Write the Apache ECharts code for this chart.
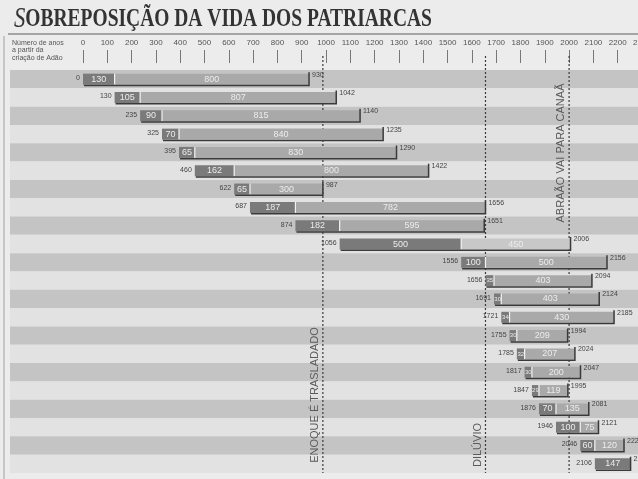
<!DOCTYPE html>
<html><head><meta charset="utf-8">
<script src="https://cdn.jsdelivr.net/npm/echarts@6/dist/echarts.min.js"></script>
<style>html,body{margin:0;padding:0;background:#ececec}#c{width:638px;height:479px}</style>
</head><body><div id="c"></div><script>
const names = ['ADÃO','SETE','ENOS','CAINÃ','MAALALEL','JAREDE','ENOQUE','MATUSALÉM','LAMEQUE','NOÉ','SEM','ARFAXADE','SELA','ÉBER','PELEGUE','REÚ','SERUGUE','NAOR','TERÁ','ABRÃO (ABRAÃO)','ISAQUE','JACÓ (ISRAEL)'];
const births    = [0,130,235,325,395,460,622,687,874,1056,1556,1656,1691,1721,1755,1785,1817,1847,1876,1946,2046,2106];
const firstSpan = [130,105,90,70,65,162,65,187,182,500,100,35,30,34,30,32,30,29,70,100,60,147];
const laterSpan = [800,807,815,840,830,800,300,782,595,450,500,403,403,430,209,207,200,119,135,75,120,0];
const deaths    = [930,1042,1140,1235,1290,1422,987,1656,1651,2006,2156,2094,2124,2185,1994,2024,2047,1995,2081,2121,2226,2253];
const eventYears = [987,1656,2000];
const eventNames = ['ENOQUE É TRASLADADO','DILÚVIO','ABRAÃO VAI PARA CANAÃ'];
const eventTextY = [395,445,153];

const SANS = '"Liberation Sans Narrow","Liberation Sans",Arial,sans-serif';
const chart = echarts.init(document.getElementById('c'));

function renderBand(params, api){
  const i = api.value(0);
  const y = api.coord([0, i])[1];
  const h = api.size([0, 1])[1];
  return {type:'rect', shape:{x:10, y:y-h/2, width:640, height:h},
    style:{fill: i % 2 === 0 ? '#c4c4c4' : '#e2e2e2'}};
}

function renderEvent(params, api){
  const v = api.value(0), idx = params.dataIndex;
  const cs = params.coordSys;
  const x = api.coord([v, 0])[0];
  return {type:'group', children:[
    {type:'line', shape:{x1:x, y1:cs.y-14, x2:x, y2:cs.y+cs.height}, style:{stroke:'#3a3a3a', lineWidth:1.2, lineDash:[2,2]}},
    {type:'text', x:x-8, y:eventTextY[idx], rotation:Math.PI/2,
      style:{text:eventNames[idx], fill:'#5a5a5a', fontSize:11, fontFamily:'"Liberation Sans",Arial,sans-serif', textAlign:'center', textVerticalAlign:'middle'}}
  ]};
}

function renderLife(params, api){
  const i = api.value(0), b = api.value(1), s1 = api.value(2), s2 = api.value(3), d = api.value(4);
  const a = api.coord([b, i]), m = api.coord([b + s1, i]), e = api.coord([b + s1 + s2, i]);
  const h = 11, top = a[1] - h/2;
  const c2 = i === 9 ? '#c8c8c8' : '#a9a9a9';
  const ch = [];
  ch.push({type:'rect', shape:{x:a[0], y:top, width:m[0]-a[0], height:h}, style:{fill:'#7a7a7a'}});
  if (s2 > 0) {
    ch.push({type:'rect', shape:{x:m[0], y:top, width:e[0]-m[0], height:h}, style:{fill:c2}});
    ch.push({type:'line', shape:{x1:m[0], y1:top, x2:m[0], y2:top+h}, style:{stroke:'#f2f2f2', lineWidth:1.2}});
  }
  ch.push({type:'polyline', shape:{points:[[a[0]+1, top+h+0.8],[e[0], top+h+0.8],[e[0], top-1.5]]},
    style:{stroke:'#3a3a3a', lineWidth:1.5, fill:null}});
  const segLabel = (x0, x1, val) => {
    const w = x1 - x0;
    ch.push({type:'text', x:(x0+x1)/2, y:a[1], style:{text:String(val), fill:'#ececec',
      fontSize: w < 14 ? 6 : 9, fontFamily:SANS, textAlign:'center', textVerticalAlign:'middle'}});
  };
  segLabel(a[0], m[0], s1);
  if (s2 > 0) segLabel(m[0], e[0], s2);
  ch.push({type:'text', x:a[0]-3, y:a[1]-1, style:{text:String(b), fill:'#444', fontSize:7, fontFamily:SANS, textAlign:'right', textVerticalAlign:'middle'}});
  ch.push({type:'text', x:e[0]+3, y:top+1, style:{text:String(d), fill:'#444', fontSize:7, fontFamily:SANS, textAlign:'left', textVerticalAlign:'middle'}});
  return {type:'group', children:ch};
}

chart.setOption({
  backgroundColor:'#ececec',
  animation:false,
  grid:{left:83, top:70, right:-4, bottom:6, outerBoundsMode:'none', containLabel:false},
  xAxis:{type:'value', position:'top', min:0, max:2300, interval:100, offset:7,
    axisLine:{show:false}, splitLine:{show:false},
    axisTick:{show:true, length:13, lineStyle:{color:'#777', width:1}},
    axisLabel:{margin:16, color:'#555', fontSize:8, fontFamily:SANS, formatter:v => String(v)}},
  yAxis:{type:'category', data:names, inverse:true,
    axisLine:{show:false}, axisTick:{show:false}, splitLine:{show:false},
    axisLabel:{interval:0, align:'left', margin:71, color:'#505050', fontSize:10.5, fontFamily:'"Liberation Sans",Arial,sans-serif'}},
  graphic:[
    {type:'text', x:14, y:5, scaleX:0.78, z:10,
      style:{text:'{s|S}OBREPOSIÇÃO DA VIDA DOS PATRIARCAS', fill:'#333', fontSize:25, fontWeight:'bold', fontFamily:'"Liberation Serif","DejaVu Serif",serif',
        rich:{s:{fontSize:29, fontStyle:'italic', fontWeight:'normal', fontFamily:'"Liberation Serif","DejaVu Serif",serif', fill:'#333'}}}},
    {type:'line', shape:{x1:8, y1:34, x2:638, y2:34}, style:{stroke:'#8c8c8c', lineWidth:1.5}},
    {type:'line', shape:{x1:4, y1:36, x2:4, y2:479}, style:{stroke:'#a0a0a0', lineWidth:1}},
    {type:'text', x:12, y:39, style:{text:'Número de anos\na partir da\ncriação de Adão', fill:'#555', fontSize:7, lineHeight:7.5, fontFamily:SANS}}
  ],
  series:[
    {type:'custom', z:1, renderItem:renderBand, data:names.map((n,i)=>[i]), silent:true},
    {type:'custom', z:2, renderItem:renderEvent, data:eventYears.map(v=>[v]), silent:true},
    {type:'custom', z:3, renderItem:renderLife, silent:true,
      data:names.map((n,i)=>[i, births[i], firstSpan[i], laterSpan[i], deaths[i]])}
  ]
});
</script></body></html>
